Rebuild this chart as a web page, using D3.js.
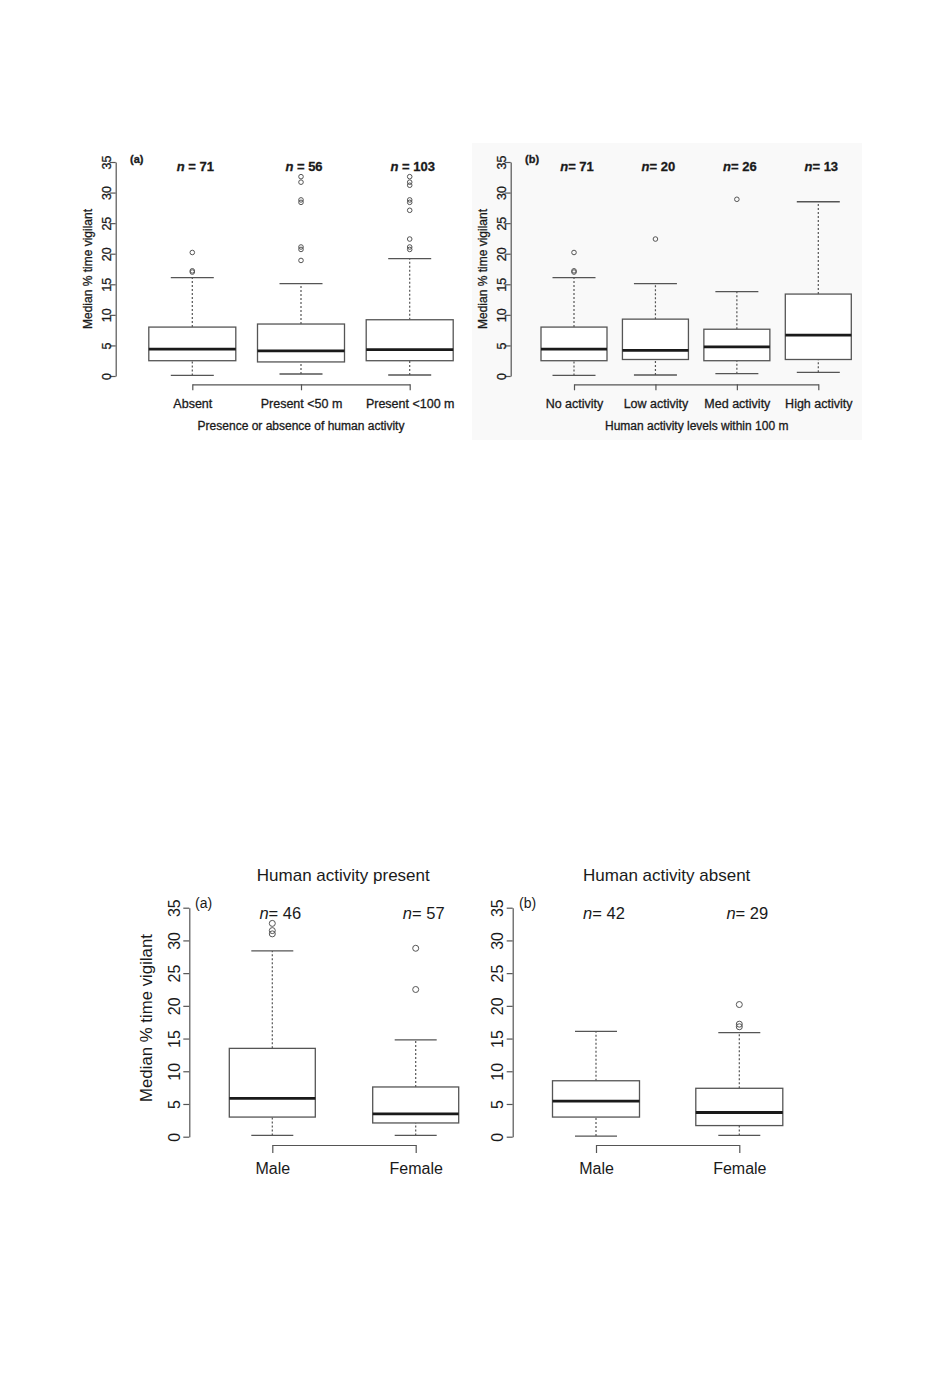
<!DOCTYPE html>
<html>
<head>
<meta charset="utf-8">
<script src="https://cdn.jsdelivr.net/npm/d3@7"></script>
<style>
  body { margin: 0; background: #fff; }
  text { font-family: "Liberation Sans", Arial, sans-serif; fill: #1a1a1a; }
  .heavy text { stroke: #1a1a1a; stroke-width: 0.3px; }
</style>
</head>
<body>
<script>
// ---- data ----
const yTicks = [0, 5, 10, 15, 20, 25, 30, 35];

// top (a): presence / absence
const presenceCats = ["Absent", "Present <50 m", "Present <100 m"];
const presenceN = [71, 56, 103];
// [lower whisker, Q1, median, Q3, upper whisker]
const presenceStats = [
  [0.1, 2.5, 4.4, 8.0, 16.1],
  [0.33, 2.3, 4.1, 8.5, 15.1],
  [0.16, 2.5, 4.3, 9.2, 19.2]
];
const presenceOut = [
  [17.0, 17.2, 20.2],
  [18.9, 20.7, 21.1, 28.4, 28.8, 31.7, 32.6],
  [20.7, 21.1, 22.4, 27.1, 28.4, 28.8, 31.2, 31.7, 32.6]
];

// top (b): activity levels
const levelCats = ["No activity", "Low activity", "Med activity", "High activity"];
const levelN = [71, 20, 26, 13];
const levelStats = [
  [0.1, 2.5, 4.4, 8.0, 16.1],
  [0.16, 2.7, 4.2, 9.3, 15.1],
  [0.38, 2.5, 4.75, 7.65, 13.8],
  [0.6, 2.7, 6.7, 13.4, 28.5]
];
const levelOut = [
  [17.0, 17.2, 20.2],
  [22.4],
  [28.9],
  []
];

// bottom: sex
const sexCats = ["Male", "Female"];
const presentN = [46, 57];
const presentStats = [
  [0.2, 3.0, 5.85, 13.5, 28.4],
  [0.2, 2.1, 3.5, 7.6, 14.8]
];
const presentOut = [
  [31.0, 31.5, 32.6],
  [22.5, 28.8]
];
const absentN = [42, 29];
const absentStats = [
  [0.1, 3.0, 5.45, 8.55, 16.1],
  [0.2, 1.7, 3.7, 7.4, 15.9]
];
const absentOut = [
  [],
  [16.8, 17.2, 20.2]
];

const svg = d3.select("body").append("svg")
  .attr("width", 933).attr("height", 1387);
svg.append("rect").attr("width", 933).attr("height", 1387).attr("fill", "#fff");

// faint scan tint behind the top-right figure
svg.append("rect").attr("x", 472).attr("y", 143).attr("width", 390).attr("height", 297)
  .attr("fill", "#f9f9f9");

function drawPanel(p) {
  const g = svg.append("g").attr("class", p.heavy ? "heavy" : null);
  const y = d3.scaleLinear().domain([0, 35]).range([p.y0, p.y35]);
  const x = d3.scalePoint().domain(p.cats).range([p.xFirst, p.xLast]);
  const lineCol = "#555";

  // y axis, R style with rotated labels
  const yAxis = g.append("g")
    .attr("transform", `translate(${p.axisX},0)`)
    .call(d3.axisLeft(y).tickValues(yTicks).tickSize(6).tickSizeOuter(0));
  yAxis.select(".domain").attr("stroke", lineCol).attr("stroke-width", 1.2);
  yAxis.selectAll(".tick line").attr("stroke", lineCol).attr("stroke-width", 1.2);
  yAxis.selectAll(".tick text")
    .attr("transform", "rotate(-90)")
    .attr("x", 0).attr("y", -p.yLabOff).attr("dy", 0)
    .attr("text-anchor", "middle")
    .attr("font-size", p.tickFont)
    .attr("font-family", "Liberation Sans, Arial, sans-serif")
    .attr("fill", "#1a1a1a");

  // x axis bracket
  const xAxis = g.append("g")
    .attr("transform", `translate(0,${p.bracketY})`)
    .call(d3.axisBottom(x).tickSize(p.xTick).tickSizeOuter(0).tickPadding(p.xPad));
  xAxis.select(".domain").attr("stroke", lineCol).attr("stroke-width", 1.2);
  xAxis.selectAll(".tick line").attr("stroke", lineCol).attr("stroke-width", 1.2);
  xAxis.selectAll(".tick text")
    .attr("font-size", p.catFont)
    .attr("font-family", "Liberation Sans, Arial, sans-serif")
    .attr("fill", "#1a1a1a");

  const boxes = g.selectAll("g.box").data(p.cats).join("g").attr("class", "box");

  // whiskers (dashed)
  boxes.append("line")
    .attr("x1", d => x(d)).attr("x2", d => x(d))
    .attr("y1", (d, i) => y(p.stats[i][0])).attr("y2", (d, i) => y(p.stats[i][1]))
    .attr("stroke", lineCol).attr("stroke-width", 1.2).attr("stroke-dasharray", "2,2");
  boxes.append("line")
    .attr("x1", d => x(d)).attr("x2", d => x(d))
    .attr("y1", (d, i) => y(p.stats[i][3])).attr("y2", (d, i) => y(p.stats[i][4]))
    .attr("stroke", lineCol).attr("stroke-width", 1.2).attr("stroke-dasharray", "2,2");
  // staples
  [0, 4].forEach(k => {
    boxes.append("line")
      .attr("x1", d => x(d) - p.capW / 2).attr("x2", d => x(d) + p.capW / 2)
      .attr("y1", (d, i) => y(p.stats[i][k])).attr("y2", (d, i) => y(p.stats[i][k]))
      .attr("stroke", lineCol).attr("stroke-width", 1.3);
  });
  // box
  boxes.append("rect")
    .attr("x", d => x(d) - p.boxW / 2).attr("width", p.boxW)
    .attr("y", (d, i) => y(p.stats[i][3]))
    .attr("height", (d, i) => y(p.stats[i][1]) - y(p.stats[i][3]))
    .attr("fill", "#fff").attr("stroke", lineCol).attr("stroke-width", 1.3);
  // median
  boxes.append("line")
    .attr("x1", d => x(d) - p.boxW / 2).attr("x2", d => x(d) + p.boxW / 2)
    .attr("y1", (d, i) => y(p.stats[i][2])).attr("y2", (d, i) => y(p.stats[i][2]))
    .attr("stroke", "#1a1a1a").attr("stroke-width", 2.8);
  // outliers
  boxes.each(function(d, i) {
    d3.select(this).selectAll("circle").data(p.out[i]).join("circle")
      .attr("cx", x(d)).attr("cy", v => y(v)).attr("r", p.ptR)
      .attr("fill", "none").attr("stroke", "#555").attr("stroke-width", 1);
  });

  // n labels
  const nl = g.selectAll("text.n").data(p.cats).join("text").attr("class", "n")
    .attr("x", d => x(d) + p.nDx).attr("y", p.nY)
    .attr("text-anchor", "middle").attr("font-size", p.nFont)
    .attr("font-weight", p.nWeight);
  nl.append("tspan").attr("font-style", "italic").text("n");
  nl.append("tspan").text((d, i) => p.nSep + p.ns[i]);

  // panel letter
  g.append("text").attr("x", p.tagX).attr("y", p.tagY)
    .attr("font-size", p.tagFont).attr("font-weight", p.nWeight).text(p.tag);

  // y title
  if (p.yTitleX != null) {
    g.append("text")
      .attr("transform", `translate(${p.yTitleX},${p.yTitleY}) rotate(-90)`)
      .attr("text-anchor", "middle").attr("font-size", p.yTitleFont)
      .text("Median % time vigilant");
  }

  if (p.xTitle) {
    g.append("text").attr("x", p.xTitleX).attr("y", p.xTitleY)
      .attr("text-anchor", "middle").attr("font-size", p.xTitleFont)
      .text(p.xTitle);
  }
  if (p.title) {
    g.append("text").attr("x", p.titleX).attr("y", p.titleY)
      .attr("text-anchor", "middle").attr("font-size", p.titleFont)
      .text(p.title);
  }
}

const topCommon = {
  heavy: true,
  y0: 376, y35: 162, tickFont: 12.5, yLabOff: 4.5, bracketY: 384.3, xTick: 6, xPad: 8.5,
  catFont: 12.5, ptR: 2.3, nY: 171, nFont: 13, nWeight: "bold", tagY: 163, tagFont: 11,
  yTitleFont: 12, yTitleY: 269, xTitleY: 430, xTitleFont: 12
};

drawPanel(Object.assign({}, topCommon, {
  cats: presenceCats, ns: presenceN, stats: presenceStats, out: presenceOut,
  axisX: 115.7, xFirst: 192.3, xLast: 409.7, boxW: 87, capW: 43, nDx: 3, nSep: " = ",
  tag: "(a)", tagX: 130, yTitleX: 91.5,
  xTitle: "Presence or absence of human activity", xTitleX: 301
}));

drawPanel(Object.assign({}, topCommon, {
  cats: levelCats, ns: levelN, stats: levelStats, out: levelOut,
  axisX: 510.7, xFirst: 574, xLast: 818.3, boxW: 66, capW: 43, nDx: 3, nSep: "= ",
  tag: "(b)", tagX: 525, yTitleX: 486.5,
  xTitle: "Human activity levels within 100 m", xTitleX: 696.7
}));

const botCommon = {
  heavy: false,
  y0: 1136.7, y35: 907.7, tickFont: 16, yLabOff: 9.5, bracketY: 1145, xTick: 8, xPad: 10,
  catFont: 16, ptR: 3, nY: 918.5, nFont: 16.5, nWeight: "normal", tagY: 908, tagFont: 14,
  yTitleFont: 16.8, yTitleY: 1018, titleY: 881, titleFont: 17
};

drawPanel(Object.assign({}, botCommon, {
  cats: sexCats, ns: presentN, stats: presentStats, out: presentOut,
  axisX: 189.3, xFirst: 272.3, xLast: 415.7, boxW: 86, capW: 42, nDx: 8, nSep: "= ",
  tag: "(a)", tagX: 195, yTitleX: 152,
  title: "Human activity present", titleX: 343.3
}));

drawPanel(Object.assign({}, botCommon, {
  cats: sexCats, ns: absentN, stats: absentStats, out: absentOut,
  axisX: 512.7, xFirst: 596, xLast: 739.3, boxW: 87, capW: 42, nDx: 8, nSep: "= ",
  tag: "(b)", tagX: 519, yTitleX: null,
  title: "Human activity absent", titleX: 666.7
}));
</script>
</body>
</html>
